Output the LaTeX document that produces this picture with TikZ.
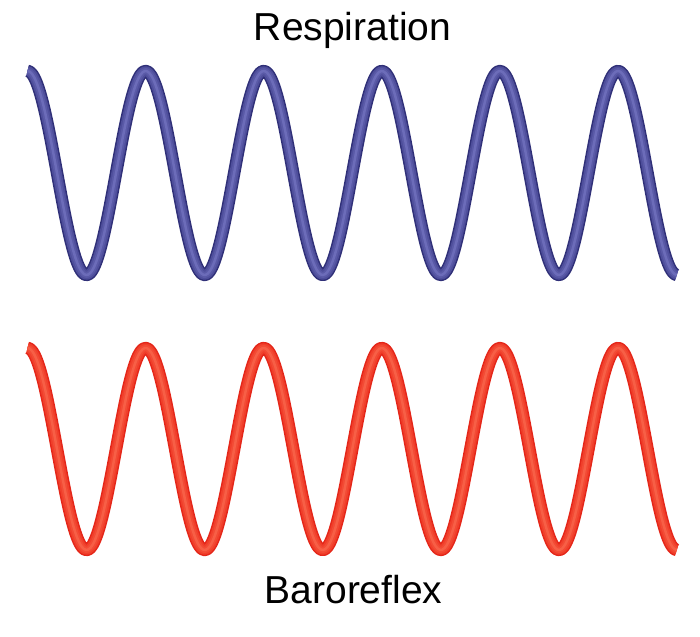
\documentclass[tikz,border=0pt]{standalone}
\usepackage{fontspec}
\setmainfont{Liberation Sans}
\usepackage{tikz}
\usetikzlibrary{positioning}
\definecolor{respdark}{RGB}{48,48,120}
\definecolor{respmid}{RGB}{78,78,155}
\definecolor{resplight}{RGB}{108,108,185}
\definecolor{barodark}{RGB}{228,38,25}
\definecolor{baromid}{RGB}{240,62,42}
\definecolor{barolight}{RGB}{247,95,70}

\begin{document}
\begin{tikzpicture}[line cap=butt,line join=round, x=1pt,y=1pt,
		wavelabel/.style={anchor=base,inner sep=0pt,font=\fontsize{39}{45}\selectfont},
		tube/.style={smooth,samples=300,domain=0:5.5}]
						\useasboundingbox (0,0) rectangle (700,636);
						\node[wavelabel] (resp) at (352.5,595) {Respiration};
						\node[wavelabel] (baro) at (353.5,32) {Baroreflex};
						% respiration wave
						\draw[tube,line width=12.5pt,respdark] plot({27.5+118.1*\x},{463+102*cos(360*\x)});
						\draw[tube,line width=9.5pt,respmid] plot({27.5+118.1*\x},{463+102*cos(360*\x)});
						\draw[tube,line width=6pt,respmid!60!resplight] plot({27.5+118.1*\x},{463+102*cos(360*\x)});
						\draw[tube,line width=2.5pt,resplight] plot({27.5+118.1*\x},{463+102*cos(360*\x)});
						% baroreflex wave
						\draw[tube,line width=12.5pt,barodark] plot({27.5+118.1*\x},{187+101*cos(360*\x)});
						\draw[tube,line width=9.5pt,baromid] plot({27.5+118.1*\x},{187+101*cos(360*\x)});
						\draw[tube,line width=6pt,baromid!60!barolight] plot({27.5+118.1*\x},{187+101*cos(360*\x)});
						\draw[tube,line width=2.5pt,barolight] plot({27.5+118.1*\x},{187+101*cos(360*\x)});
					\end{tikzpicture}
\end{document}
